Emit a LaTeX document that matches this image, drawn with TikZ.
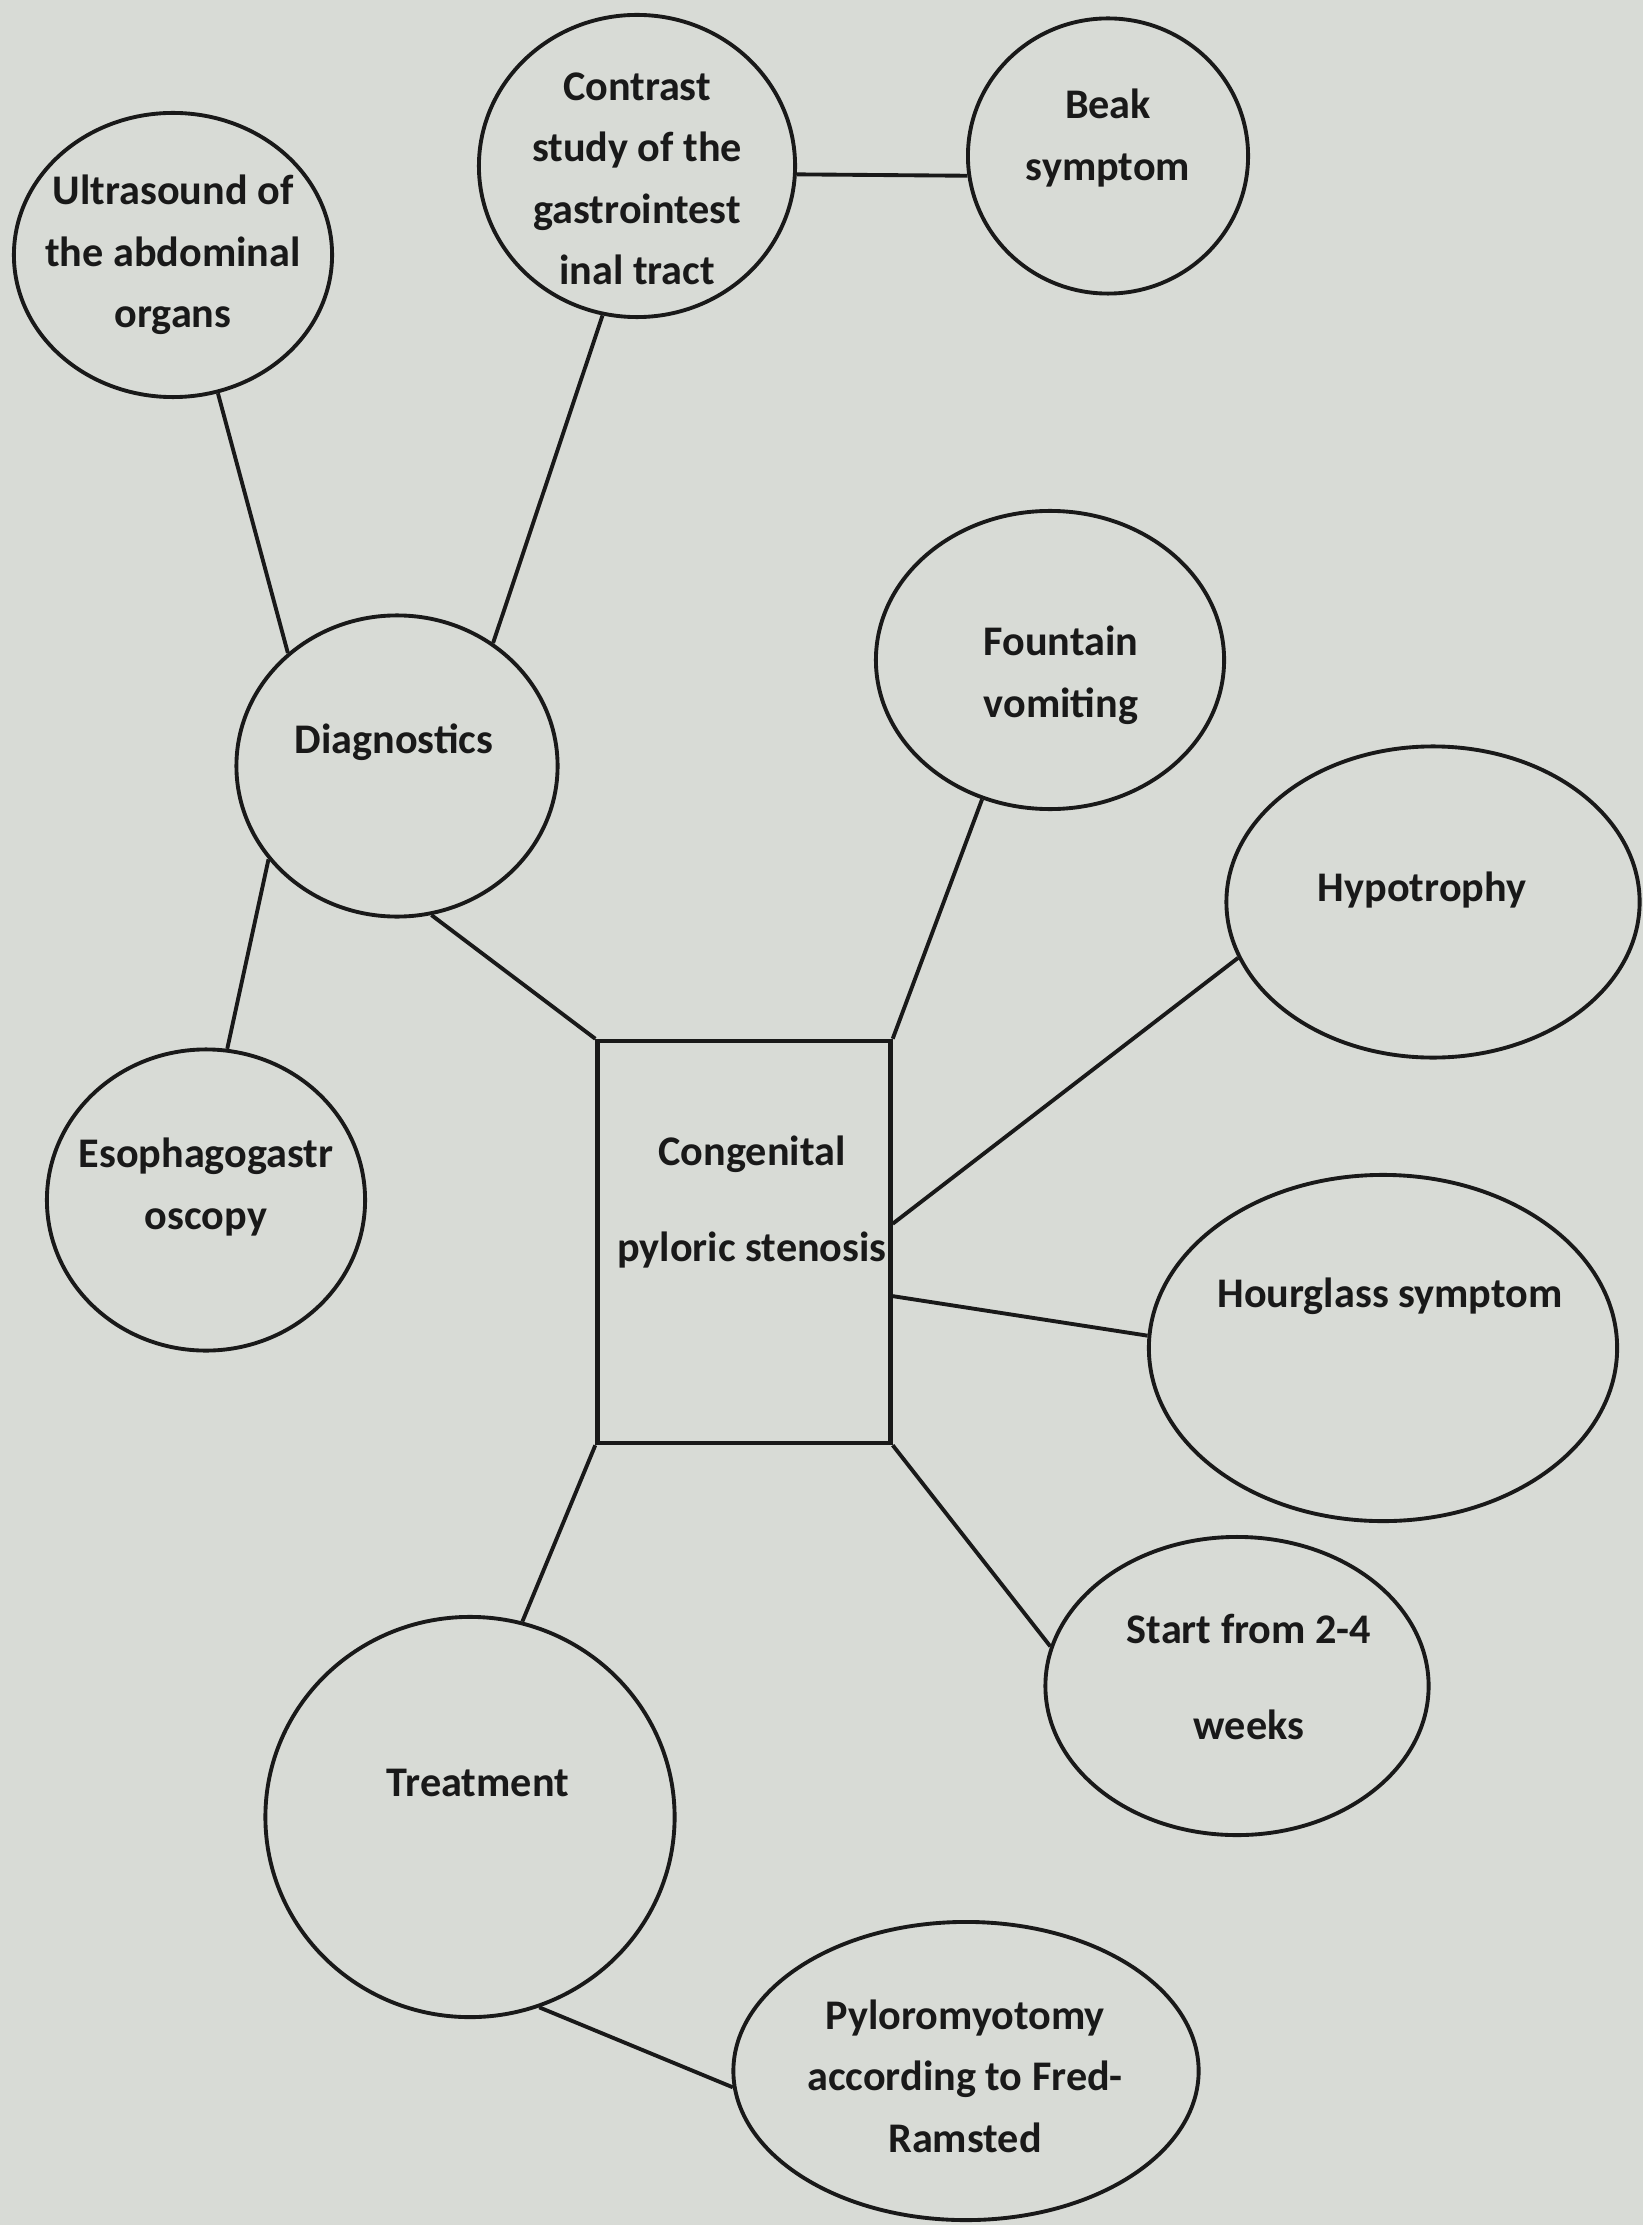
\documentclass[tikz,border=0pt]{standalone}
\usepackage{fontspec}
\setmainfont{Carlito}
\usetikzlibrary{shapes.geometric, positioning, calc}
\definecolor{paper}{RGB}{216,219,214}
\definecolor{ink}{RGB}{25,25,25}

\begin{document}
\begin{tikzpicture}[
    x=0.01cm, y=-0.01cm,
    bubble/.style={ellipse, draw=ink, line width=1.1pt, inner sep=0pt},
    box/.style={rectangle, draw=ink, line width=1.2pt, inner sep=0pt},
    txt/.style={align=center, text=ink, font=\bfseries\fontsize{12}{17.5}\selectfont},
    link/.style={draw=ink, line width=1.1pt},
]
    \fill[paper] (0,0) rectangle (1643,2225);
    \useasboundingbox (0,0) rectangle (1643,2225);

    % shapes
    \node[bubble, minimum width=3.18cm, minimum height=2.84cm] (ultra) at (173,255) {};
    \node[bubble, minimum width=3.16cm, minimum height=3.02cm] (contrast) at (637,166) {};
    \node[bubble, minimum width=2.80cm, minimum height=2.75cm] (beak) at (1108,156) {};
    \node[bubble, minimum width=3.21cm, minimum height=3.01cm] (diag) at (397,766) {};
    \node[bubble, minimum width=3.48cm, minimum height=2.98cm] (fountain) at (1050,660) {};
    \node[bubble, minimum width=4.13cm, minimum height=3.11cm] (hypo) at (1433,902) {};
    \node[bubble, minimum width=3.18cm, minimum height=3.01cm] (egds) at (206,1200) {};
    \node[bubble, minimum width=4.68cm, minimum height=3.46cm] (hour) at (1383,1348) {};
    \node[bubble, minimum width=3.83cm, minimum height=2.98cm] (onset) at (1237,1686) {};
    \node[bubble, minimum width=4.09cm, minimum height=4.00cm] (treat) at (470,1817) {};
    \node[bubble, minimum width=4.65cm, minimum height=2.98cm] (pmt) at (966,2071) {};
    \node[box, minimum width=2.93cm, minimum height=4.02cm] (cps) at (744,1242) {};

    % texts
    \node[txt] (ultra-t) at (173,255) {Ultrasound of\\the abdominal\\organs};
    \node[txt] (contrast-t) at (637,179) {Contrast\\study of the\\gastrointest\\inal tract};
    \node[txt] (beak-t) at (1108,138) {Beak\\symptom};
    \node[txt] (diag-t) at (394,742) {Diagnostics};
    \node[txt] (fountain-t) at (1061,675) {Fountain\\vomiting};
    \node[txt] (hypo-t) at (1422,890) {Hypotrophy};
    \node[txt] (egds-t) at (206,1187) {Esophagogastr\\oscopy};
    \node[txt] (hour-t) at (1390,1296) {Hourglass symptom};
    \node[txt] (onset-t) at (1249,1677) {Start from 2-4\\[10pt]weeks};
    \node[txt] (treat-t) at (478,1783) {Treatment};
    \node[txt] (pmt-t) at (965,2076) {Pyloromyotomy\\according to Fred-\\Ramsted};
    \node[txt] (cps-t) at (752,1202) {Congenital\\[10pt]pyloric stenosis};

    % connectors
    \draw[link] (ultra.-72) -- (diag.134);
    \draw[link] (contrast.-103) -- (diag.52);
    \draw[link] (contrast.-3) -- (beak.188);
    \draw[link] (diag.-77) -- (cps.north west);
    \draw[link] (diag.-144) -- (egds.82);
    \draw[link] (fountain.-116) -- (cps.north east);
    \draw[link] (hypo.196) -- (cps.7);
    \draw[link] (hour.177) -- (cps.-20);
    \draw[link] (onset.168) -- (cps.south east);
    \draw[link] (treat.75) -- (cps.south west);
    \draw[link] (treat.-70) -- (pmt.184);
\end{tikzpicture}
\end{document}
